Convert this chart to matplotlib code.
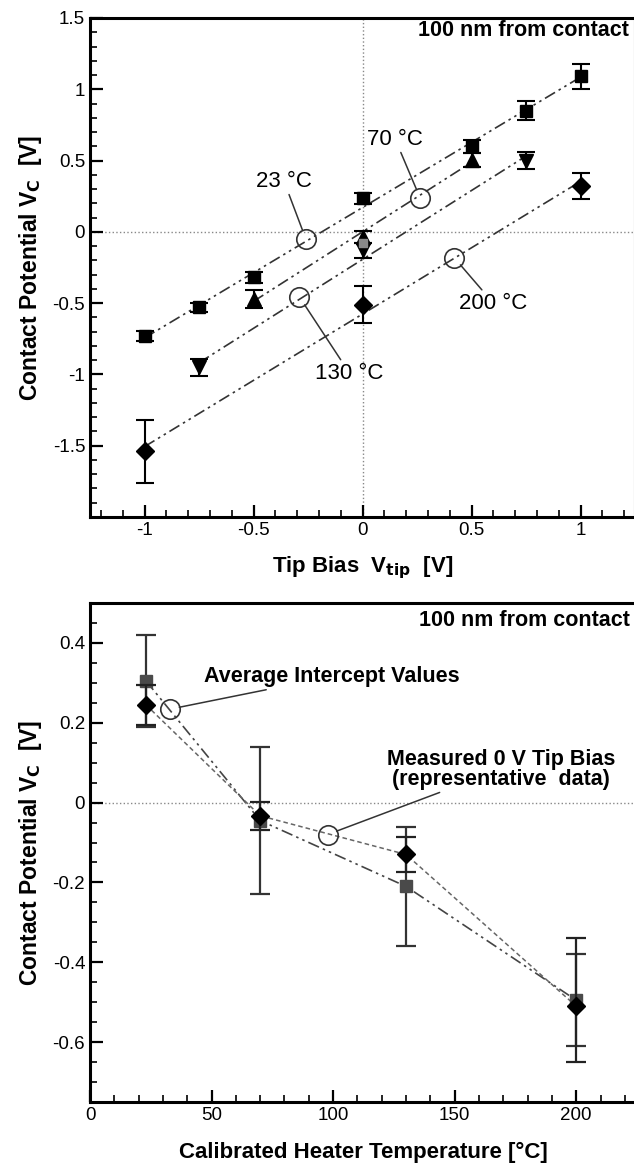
import numpy as np
import matplotlib.pyplot as plt
from matplotlib.ticker import MultipleLocator

plt.rcParams['font.family'] = ['Liberation Sans', 'DejaVu Sans']

# top panel: contact potential vs tip bias
bias_23 = [-1, -0.75, -0.5, 0, 0.5, 0.75, 1]
vc_23 = [-0.73, -0.53, -0.32, 0.235, 0.60, 0.85, 1.09]
err_23 = [0.035, 0.03, 0.04, 0.04, 0.045, 0.065, 0.09]

bias_70 = [-0.5, 0, 0.5]
vc_70 = [-0.47, -0.035, 0.505]
err_70 = [0.065, 0.04, 0.05]

bias_130 = [-0.75, 0, 0.75]
vc_130 = [-0.95, -0.13, 0.50]
err_130 = [0.06, 0.05, 0.06]

bias_200 = [-1, 0, 1]
vc_200 = [-1.54, -0.51, 0.32]
err_200 = [0.22, 0.13, 0.09]

# intercept circles and their labels
labels_top = ["23 °C", "70 °C", "130 °C", "200 °C"]
circ_x_top = [-0.26, 0.265, -0.29, 0.42]
circ_y_top = [-0.05, 0.235, -0.455, -0.18]
text_x_top = [-0.36, 0.15, -0.06, 0.60]
text_y_top = [0.355, 0.65, -0.99, -0.50]

# bottom panel: contact potential vs heater temperature
temps = [23, 70, 130, 200]
vc_avg = [0.305, -0.045, -0.21, -0.495]
err_avg = [0.115, 0.185, 0.15, 0.115]
vc_meas = [0.245, -0.033, -0.13, -0.51]
err_meas_lo = [0.05, 0.035, 0.043, 0.14]
err_meas_hi = [0.05, 0.035, 0.043, 0.17]

labels_bot = ["Average Intercept Values", "Measured 0 V Tip Bias\n(representative  data)"]
circ_x_bot = [32.8, 97.7]
circ_y_bot = [0.234, -0.08]
text_x_bot = [47, 169]
text_y_bot = [0.316, 0.083]

dashdotdot = (0, (7, 2.5, 1.5, 2.5, 1.5, 2.5))


def style_axes(ax):
    for s in ax.spines.values():
        s.set_linewidth(2.2)
    ax.tick_params(which='both', direction='in', top=False, right=False, labelsize=13.5)
    ax.tick_params(which='major', length=9, width=1.6)
    ax.tick_params(which='minor', length=5, width=1.2)
    ax.axhline(0, color='#888888', ls=':', lw=1, zorder=0)


fig = plt.figure(figsize=(6.34, 11.63), dpi=100)

# ---- top
ax1 = fig.add_axes([90 / 634, 1 - 517 / 1163, 545 / 634, 499 / 1163])
style_axes(ax1)
ax1.axvline(0, color='#888888', ls=':', lw=1, zorder=0)

series = [(bias_23, vc_23, err_23, 's', 9),
          (bias_70, vc_70, err_70, '^', 10),
          (bias_130, vc_130, err_130, 'v', 10),
          (bias_200, vc_200, err_200, 'D', 9)]
for bx, vy, ey, mk, ms in series:
    k, b = np.polyfit(bx, vy, 1)
    xs = np.array([min(bx), max(bx)])
    ax1.plot(xs, k * xs + b, color='#333333', lw=1.2, ls=dashdotdot, zorder=2)
    ax1.errorbar(bx, vy, yerr=ey, fmt=mk, ms=ms, color='black', ecolor='black',
                 elinewidth=1.5, capsize=6.5, capthick=1.5, zorder=3)
# grey marker hidden behind the triangles at 0 V
ax1.plot([0], [-0.075], 's', ms=6, color='#888888', zorder=4)

for lab, cx, cy, tx, ty in zip(labels_top, circ_x_top, circ_y_top, text_x_top, text_y_top):
    ax1.plot(cx, cy, 'o', ms=14, mfc='none', mec='#333333', mew=1.2, zorder=4)
    ax1.annotate(lab, xy=(cx, cy), xytext=(tx, ty), fontsize=16, ha='center', va='center',
                 arrowprops=dict(arrowstyle='-', color='#333333', lw=1.1, shrinkA=0, shrinkB=7))

ax1.text(1.222, 1.41, "100 nm from contact", fontsize=15.5, fontweight='bold', ha='right', va='center')
ax1.set_xlim(-1.25, 1.25)
ax1.set_ylim(-2, 1.5)
ax1.xaxis.set_minor_locator(MultipleLocator(0.1))
ax1.yaxis.set_minor_locator(MultipleLocator(0.1))
ax1.set_yticks([-1.5, -1, -0.5, 0, 0.5, 1, 1.5])
ax1.set_yticklabels(['-1.5', '-1', '-0.5', '0', '0.5', '1', '1.5'])
ax1.set_xticks([-1, -0.5, 0, 0.5, 1])
ax1.set_xticklabels(['-1', '-0.5', '0', '0.5', '1'])
ax1.set_xlabel("Tip Bias  V$_{\\mathbf{tip}}$  [V]", fontsize=16, fontweight='bold', labelpad=11)
ax1.set_ylabel("Contact Potential V$_\\mathbf{C}$  [V]", fontsize=16.5, fontweight='bold', labelpad=6)

# ---- bottom
ax2 = fig.add_axes([90 / 634, 1 - 1102 / 1163, 547 / 634, 499 / 1163])
style_axes(ax2)

ax2.plot(temps, vc_avg, color='#444444', lw=1.2, ls=dashdotdot, zorder=2)
ax2.plot(temps, vc_meas, color='#666666', lw=1.1, ls=(0, (3, 2)), zorder=2)
ax2.errorbar(temps, vc_avg, yerr=err_avg, fmt='s', ms=8.5, color='#4a4a4a', ecolor='#333333',
             elinewidth=1.6, capsize=7, capthick=1.6, zorder=3)
ax2.errorbar(temps, vc_meas, yerr=[err_meas_lo, err_meas_hi], fmt='D', ms=9, color='black',
             ecolor='#222222', elinewidth=1.6, capsize=7, capthick=1.6, zorder=4)

for i, (lab, cx, cy, tx, ty) in enumerate(zip(labels_bot, circ_x_bot, circ_y_bot, text_x_bot, text_y_bot)):
    ax2.plot(cx, cy, 'o', ms=14, mfc='none', mec='#333333', mew=1.2, zorder=5)
    ax2.annotate(lab, xy=(cx, cy), xytext=(tx, ty), fontsize=15.5, fontweight='bold',
                 ha='left' if i == 0 else 'center', va='center', linespacing=0.9,
                 arrowprops=dict(arrowstyle='-', color='#333333', lw=1.1, shrinkA=0, shrinkB=7))

ax2.text(222, 0.455, "100 nm from contact", fontsize=15.5, fontweight='bold', ha='right', va='center')
ax2.set_xlim(0, 225)
ax2.set_ylim(-0.75, 0.5)
ax2.xaxis.set_major_locator(MultipleLocator(50))
ax2.xaxis.set_minor_locator(MultipleLocator(10))
ax2.set_yticks([-0.6, -0.4, -0.2, 0, 0.2, 0.4])
ax2.set_yticklabels(['-0.6', '-0.4', '-0.2', '0', '0.2', '0.4'])
ax2.yaxis.set_minor_locator(MultipleLocator(0.05))
ax2.set_xlabel("Calibrated Heater Temperature [°C]", fontsize=16, fontweight='bold', labelpad=13)
ax2.set_ylabel("Contact Potential V$_\\mathbf{C}$  [V]", fontsize=16.5, fontweight='bold', labelpad=6)

fig.savefig("out.png", dpi=100)
